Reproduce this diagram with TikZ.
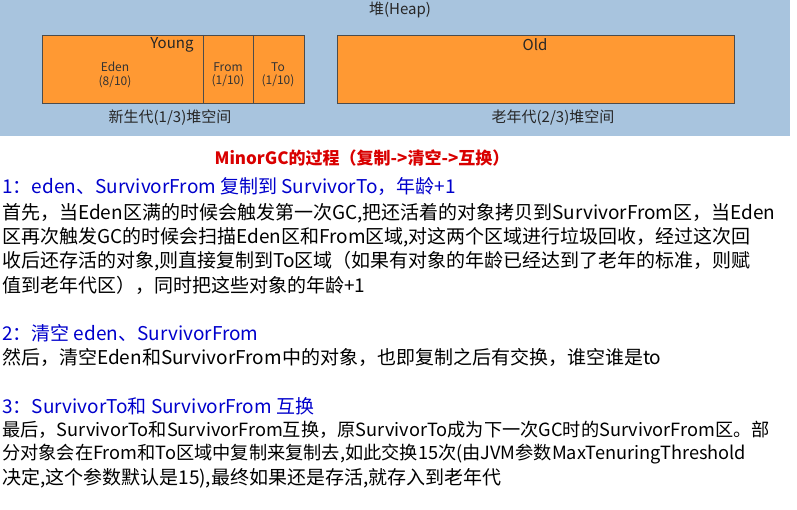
\documentclass[tikz,border=0pt]{standalone}
\usepackage{fontspec}
\setmainfont{Noto Sans CJK SC}
\definecolor{heapbg}{RGB}{168,196,222}
\definecolor{orng}{RGB}{255,153,51}
\begin{document}
\begin{tikzpicture}[x=1pt,y=-1pt,
 box/.style={draw=black!70,fill=orng,line width=0.8pt},
 sm/.style={font=\fontsize{12}{13.5}\selectfont,align=center,text=black!80},
 md/.style={font=\fontsize{15}{16}\selectfont,text=black!85},
 ln/.style={anchor=west,inner sep=0pt,font=\fontsize{19}{20}\selectfont},
 lnn/.style={anchor=west,inner sep=0pt,font=\fontsize{18.2}{20}\selectfont},
 hd/.style={ln,text=blue!80!black}]
\useasboundingbox (0,0) rectangle (797,510);
\fill[white] (0,0) rectangle (797,510);
\fill[heapbg] (0,0) rectangle (790,136);
\node[md] (heap) at (400,10) {堆(Heap)};
\draw[box] (42,35) rectangle (304,103);
\draw[black!70,line width=0.8pt] (203,35) -- (203,103) (253,35) -- (253,103);
\draw[box] (337,35) rectangle (734,103);
\node[md] (young) at (172,45) {Young};
\node[md] (old) at (535,45) {Old};
\node[sm] (eden) at (115,75) {Eden\\(8/10)};
\node[sm] (from) at (228,75) {From\\(1/10)};
\node[sm] (to) at (278,75) {To\\(1/10)};
\node[md] (ny) at (170,118) {新生代(1/3)堆空间};
\node[md] (no) at (553,118) {老年代(2/3)堆空间};
\node[text=red!85!black,font=\bfseries\fontsize{17}{18}\selectfont] (title) at (362,158) {MinorGC的过程（复制->清空->互换）};
\node[hd] (h1) at (2,187) {1：eden、SurvivorFrom 复制到 SurvivorTo，年龄+1};
\node[ln] (a1) at (2,213) {首先，当Eden区满的时候会触发第一次GC,把还活着的对象拷贝到SurvivorFrom区，当Eden};
\node[ln] (a2) at (2,237) {区再次触发GC的时候会扫描Eden区和From区域,对这两个区域进行垃圾回收，经过这次回};
\node[ln] (a3) at (2,261) {收后还存活的对象,则直接复制到To区域（如果有对象的年龄已经达到了老年的标准，则赋};
\node[ln] (a4) at (2,285) {值到老年代区），同时把这些对象的年龄+1};
\node[hd] (h2) at (2,333) {2：清空 eden、SurvivorFrom};
\node[ln] (b1) at (2,357) {然后，清空Eden和SurvivorFrom中的对象，也即复制之后有交换，谁空谁是to};
\node[hd] (h3) at (2,406) {3：SurvivorTo和 SurvivorFrom 互换};
\node[lnn] (c1) at (2,430) {最后，SurvivorTo和SurvivorFrom互换，原SurvivorTo成为下一次GC时的SurvivorFrom区。部};
\node[lnn] (c2) at (2,454) {分对象会在From和To区域中复制来复制去,如此交换15次(由JVM参数MaxTenuringThreshold};
\node[ln] (c3) at (2,478) {决定,这个参数默认是15),最终如果还是存活,就存入到老年代};
\end{tikzpicture}
\end{document}
